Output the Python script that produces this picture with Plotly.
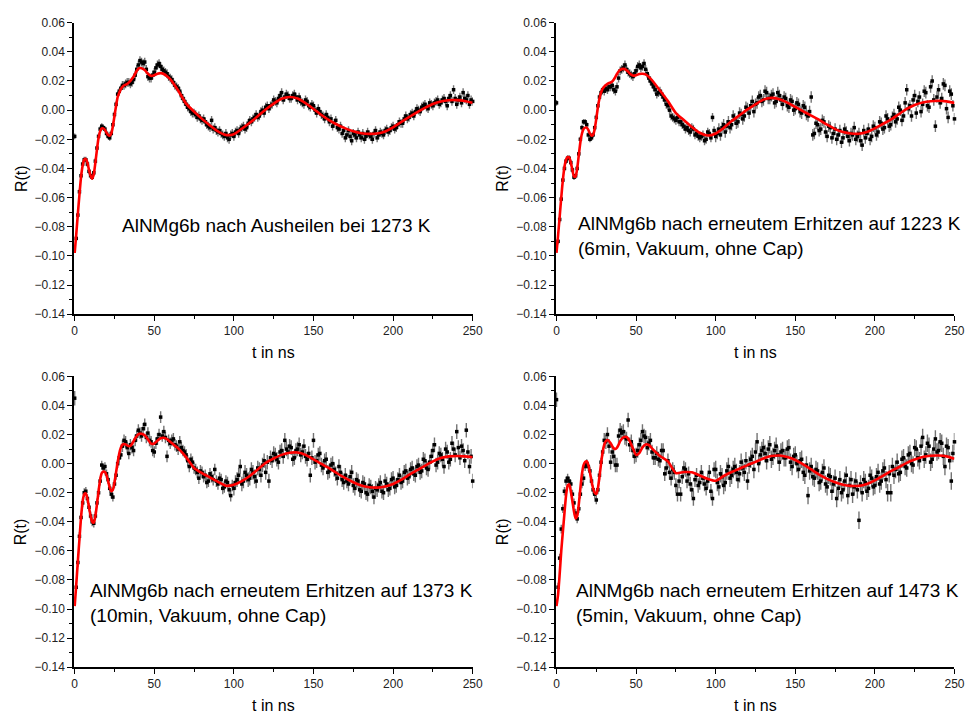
import plotly.graph_objects as go

# ---------------- data ----------------
# sampling times of the measured points (ns)
T_DATA = list(range(0, 251))
# sampling times of the fit curves (ns)
T_FIT = list(range(0, 41)) + list(range(42, 61, 2)) + list(range(65, 251, 5))

# measured R(t), panel 1 (AlNMg6b nach Ausheilen bei 1273 K)
R1 = [-0.018, -0.088, -0.072, -0.056, -0.045, -0.037, -0.034, -0.034, -0.037, -0.042,
      -0.045, -0.046, -0.043, -0.035, -0.026, -0.018, -0.013, -0.011, -0.012, -0.013,
      -0.016, -0.018, -0.019, -0.016, -0.010, -0.003, 0.004, 0.011, 0.013, 0.015,
      0.017, 0.017, 0.018, 0.019, 0.019, 0.018, 0.019, 0.021, 0.024, 0.028,
      0.031, 0.034, 0.033, 0.032, 0.033, 0.028, 0.023, 0.022, 0.022, 0.024,
      0.026, 0.029, 0.031, 0.032, 0.030, 0.028, 0.027, 0.026, 0.025, 0.023,
      0.022, 0.021, 0.019, 0.017, 0.016, 0.015, 0.013, 0.010, 0.008, 0.006,
      0.004, 0.002, 0.001, -0.001, -0.002, -0.002, -0.003, -0.005, -0.004, -0.006,
      -0.007, -0.006, -0.008, -0.010, -0.011, -0.012, -0.007, -0.013, -0.012, -0.014,
      -0.015, -0.014, -0.016, -0.017, -0.018, -0.016, -0.019, -0.020, -0.017, -0.016,
      -0.018, -0.015, -0.014, -0.016, -0.013, -0.012, -0.011, -0.013, -0.012, -0.009,
      -0.007, -0.008, -0.006, -0.005, -0.003, -0.005, -0.004, -0.001, 0.000, -0.002,
      0.002, 0.003, 0.001, 0.003, 0.004, 0.007, 0.006, 0.005, 0.008, 0.010,
      0.012, 0.007, 0.009, 0.011, 0.010, 0.008, 0.008, 0.010, 0.011, 0.009,
      0.007, 0.009, 0.006, 0.005, 0.004, 0.007, 0.006, 0.003, 0.002, 0.004,
      0.003, 0.000, -0.002, 0.001, -0.001, -0.003, -0.004, -0.006, -0.003, -0.005,
      -0.008, -0.006, -0.011, -0.009, -0.007, -0.012, -0.013, -0.011, -0.016, -0.014,
      -0.019, -0.017, -0.014, -0.018, -0.021, -0.016, -0.017, -0.019, -0.015, -0.017,
      -0.019, -0.016, -0.020, -0.018, -0.015, -0.017, -0.018, -0.020, -0.016, -0.014,
      -0.019, -0.017, -0.015, -0.016, -0.017, -0.014, -0.013, -0.015, -0.014, -0.012,
      -0.011, -0.013, -0.012, -0.010, -0.008, -0.009, -0.009, -0.006, -0.004, -0.006,
      -0.005, -0.003, -0.002, -0.004, -0.001, 0.001, 0.000, -0.001, 0.002, 0.003,
      0.004, 0.002, 0.001, 0.005, 0.004, 0.003, 0.005, 0.006, 0.007, 0.004,
      0.005, 0.007, 0.008, 0.006, 0.003, 0.008, 0.010, 0.006, 0.014, 0.008,
      0.004, 0.007, 0.009, 0.005, 0.012, 0.008, 0.007, 0.010, 0.004, 0.007,
      0.006]
E1 = [0.002] * 30 + [0.003] * 221

R2 = [0.005, -0.090, -0.075, -0.061, -0.048, -0.040, -0.035, -0.033, -0.033, -0.036,
      -0.041, -0.046, -0.045, -0.040, -0.030, -0.020, -0.012, -0.008, -0.008, -0.010,
      -0.017, -0.020, -0.019, -0.017, -0.012, -0.005, 0.003, 0.009, 0.012, 0.014,
      0.013, 0.015, 0.014, 0.016, 0.016, 0.017, 0.014, 0.013, 0.016, 0.022,
      0.027, 0.028, 0.029, 0.031, 0.028, 0.026, 0.025, 0.024, 0.023, 0.025,
      0.027, 0.030, 0.031, 0.029, 0.030, 0.032, 0.028, 0.025, 0.022, 0.020,
      0.018, 0.016, 0.014, 0.011, 0.012, 0.013, 0.011, 0.009, 0.007, 0.004,
      0.003, 0.000, -0.004, -0.005, -0.006, -0.007, -0.005, -0.008, -0.008, -0.010,
      -0.011, -0.013, -0.012, -0.014, -0.015, -0.012, -0.013, -0.017, -0.016, -0.018,
      -0.019, -0.018, -0.017, -0.021, -0.020, -0.015, -0.016, -0.019, -0.005, -0.014,
      -0.018, -0.016, -0.013, -0.017, -0.012, -0.010, -0.015, -0.011, -0.008, -0.012,
      -0.010, -0.004, -0.006, -0.009, -0.008, -0.002, -0.003, -0.006, -0.004, 0.002,
      0.001, -0.002, 0.003, 0.006, -0.001, 0.004, 0.005, 0.009, 0.010, 0.006,
      0.007, 0.013, 0.012, 0.008, 0.008, 0.010, 0.011, 0.005, 0.006, 0.012,
      0.010, 0.007, 0.004, 0.009, 0.008, 0.003, 0.002, 0.007, 0.006, 0.000,
      0.001, 0.005, 0.004, -0.001, -0.002, 0.003, 0.002, -0.003, -0.004, -0.001,
      0.009, -0.017, -0.016, -0.009, -0.010, -0.014, -0.013, -0.007, -0.008, -0.015,
      -0.018, -0.011, -0.012, -0.019, -0.016, -0.013, -0.020, -0.017, -0.014, -0.022,
      -0.019, -0.013, -0.015, -0.018, -0.021, -0.016, -0.017, -0.012, -0.020, -0.018,
      -0.016, -0.021, -0.024, -0.014, -0.019, -0.016, -0.013, -0.020, -0.018, -0.011,
      -0.012, -0.017, -0.015, -0.008, -0.009, -0.013, -0.012, -0.004, -0.006, -0.011,
      -0.010, -0.005, -0.003, -0.008, -0.006, 0.002, 0.000, -0.007, -0.004, 0.005,
      0.014, 0.001, 0.003, -0.004, 0.007, 0.010, -0.002, 0.006, 0.009, -0.001,
      0.004, 0.013, 0.012, 0.003, 0.002, 0.016, 0.020, 0.007, -0.011, 0.009,
      0.014, 0.005, 0.008, 0.018, 0.017, 0.001, -0.005, 0.013, 0.011, 0.003,
      -0.006]
E2 = [0.002] * 30 + [0.003] * 70 + [0.004] * 151

R3 = [0.045, -0.085, -0.068, -0.050, -0.037, -0.027, -0.020, -0.019, -0.024, -0.030,
      -0.036, -0.040, -0.041, -0.036, -0.027, -0.020, -0.012, -0.001, -0.003, -0.002,
      -0.007, -0.011, -0.017, -0.021, -0.023, -0.014, -0.008, 0.000, 0.004, 0.006,
      0.012, 0.016, 0.015, 0.011, 0.007, 0.013, 0.011, 0.009, 0.016, 0.019,
      0.023, 0.021, 0.019, 0.024, 0.027, 0.018, 0.021, 0.016, 0.015, 0.009,
      0.008, 0.014, 0.017, 0.020, 0.032, 0.019, 0.022, 0.018, 0.005, 0.016,
      0.014, 0.016, 0.017, 0.013, 0.012, 0.010, 0.015, 0.011, 0.009, 0.008,
      0.006, 0.002, -0.002, 0.003, 0.001, -0.003, -0.004, -0.006, -0.010, -0.005,
      -0.006, -0.009, -0.008, -0.013, -0.012, -0.007, -0.009, -0.011, -0.004, -0.012,
      -0.014, -0.010, -0.011, -0.017, -0.016, -0.012, -0.013, -0.018, -0.022, -0.015,
      -0.017, -0.013, -0.011, -0.008, -0.002, -0.014, -0.012, -0.006, -0.008, -0.011,
      -0.010, -0.004, -0.006, -0.009, -0.012, -0.003, -0.004, -0.008, -0.001, 0.002,
      -0.006, 0.001, -0.012, 0.004, 0.002, 0.007, 0.006, 0.003, 0.001, 0.008,
      0.009, 0.005, 0.016, 0.010, 0.008, 0.012, 0.011, 0.003, 0.004, 0.009,
      0.010, 0.013, 0.006, 0.008, 0.012, 0.005, 0.003, 0.007, -0.008, 0.004,
      0.016, 0.001, 0.002, 0.006, 0.007, -0.001, -0.003, 0.002, 0.003, -0.006,
      -0.005, -0.001, 0.000, -0.004, -0.007, -0.010, -0.002, -0.006, -0.011, -0.013,
      -0.008, -0.012, -0.014, -0.009, -0.006, -0.015, -0.017, -0.011, -0.012, -0.018,
      -0.019, -0.013, -0.014, -0.020, -0.021, -0.015, -0.016, -0.019, -0.023, -0.017,
      -0.018, -0.015, -0.013, -0.019, -0.020, -0.012, -0.014, -0.018, -0.017, -0.011,
      -0.010, -0.016, -0.015, -0.011, -0.008, -0.013, -0.012, -0.006, -0.005, -0.010,
      -0.009, -0.004, -0.003, -0.007, -0.008, -0.002, -0.001, -0.006, -0.005, 0.003,
      0.002, -0.003, -0.004, 0.001, 0.005, 0.009, 0.013, -0.001, 0.001, 0.007,
      0.006, 0.003, -0.002, 0.010, 0.008, 0.001, 0.003, 0.014, 0.010, 0.006,
      0.022, 0.011, 0.004, 0.012, 0.009, 0.002, 0.023, 0.008, -0.002, 0.005,
      -0.012]
E3 = [0.005] + [0.003] * 29 + [0.004] * 70 + [0.005] * 151

R4 = [0.044, -0.085, -0.065, -0.045, -0.031, -0.019, -0.012, -0.010, -0.012, -0.014,
      -0.021, -0.027, -0.034, -0.038, -0.031, -0.021, -0.014, -0.010, -0.002, 0.000,
      -0.002, -0.005, -0.012, -0.018, -0.021, -0.025, -0.018, -0.008, 0.001, 0.008,
      0.016, 0.015, 0.020, 0.012, 0.001, 0.008, 0.005, -0.001, -0.001, 0.019,
      0.023, 0.021, 0.022, 0.018, 0.017, 0.030, 0.013, 0.015, 0.009, 0.005,
      0.006, 0.009, 0.013, 0.016, 0.022, 0.019, 0.018, 0.011, 0.014, 0.016,
      0.008, 0.004, 0.004, 0.007, 0.003, 0.002, 0.009, 0.009, -0.007, -0.003,
      0.002, -0.006, -0.010, -0.004, -0.006, -0.015, -0.021, -0.012, -0.021, -0.009,
      -0.003, -0.004, -0.012, -0.007, -0.014, -0.018, -0.024, -0.011, -0.008, -0.015,
      -0.013, -0.006, -0.010, -0.014, -0.017, -0.012, -0.006, -0.019, -0.024, -0.004,
      -0.004, -0.013, -0.016, -0.007, -0.009, -0.015, -0.013, -0.005, -0.002, -0.010,
      -0.008, -0.004, -0.002, -0.006, -0.011, -0.007, 0.001, -0.003, -0.006, 0.002,
      -0.012, -0.001, 0.003, 0.005, -0.004, 0.008, 0.015, 0.000, 0.006, 0.009,
      0.011, 0.007, 0.002, 0.010, 0.013, 0.003, 0.005, 0.009, 0.012, 0.006,
      0.001, 0.008, 0.009, 0.004, 0.004, 0.010, 0.011, 0.001, -0.002, 0.005,
      0.006, 0.000, -0.004, 0.002, 0.003, -0.006, -0.008, -0.001, -0.022, -0.005,
      -0.002, -0.009, -0.010, -0.004, -0.005, -0.013, -0.012, -0.006, -0.003, -0.014,
      -0.016, -0.008, -0.009, -0.019, -0.014, -0.010, -0.024, -0.017, -0.011, -0.020,
      -0.018, -0.012, -0.008, -0.022, -0.015, -0.011, -0.021, -0.016, -0.012, -0.018,
      -0.039, -0.014, -0.020, -0.011, -0.013, -0.019, -0.017, -0.008, -0.010, -0.016,
      -0.015, -0.009, -0.006, -0.014, -0.012, -0.005, -0.003, -0.011, -0.020, -0.007,
      -0.020, -0.002, -0.008, -0.004, 0.001, -0.007, -0.006, 0.003, 0.004, -0.002,
      -0.003, 0.006, 0.007, 0.000, -0.001, 0.011, 0.010, 0.004, 0.002, 0.012,
      0.018, 0.003, 0.006, 0.014, 0.012, 0.001, 0.003, 0.010, 0.017, 0.008,
      0.009, 0.015, 0.014, 0.005, -0.002, 0.012, 0.011, 0.002, -0.012, 0.007,
      0.015]
E4 = [0.005] + [0.003] * 29 + [0.005] * 70 + [0.006] * 151

# fit curves (red lines)
F1 = [-0.098, -0.085, -0.071, -0.058, -0.046, -0.038, -0.034, -0.0335, -0.036, -0.041,
      -0.045, -0.047, -0.044, -0.036, -0.027, -0.019, -0.0145, -0.0125, -0.0125, -0.0135,
      -0.0155, -0.017, -0.0175, -0.016, -0.011, -0.004, 0.003, 0.009, 0.012, 0.0145,
      0.016, 0.017, 0.0175, 0.018, 0.019, 0.020, 0.0215, 0.023, 0.025, 0.027, 0.0285,
      0.0288, 0.0275, 0.025, 0.0235, 0.024, 0.025, 0.0254, 0.0248, 0.0232, 0.0212,
      0.0135, 0.0045, -0.001, -0.006, -0.0105, -0.0145, -0.0170, -0.0165, -0.0128, -0.0087,
      -0.0042, 0.0005, 0.0045, 0.0078, 0.0090, 0.0080, 0.0048, 0.0008, -0.0033, -0.0070,
      -0.0100, -0.0125, -0.0145, -0.0158, -0.0163, -0.0160, -0.0146, -0.0118, -0.0082, -0.0048,
      -0.0015, 0.0015, 0.0042, 0.0060, 0.0068, 0.0069, 0.0063, 0.0050]
F2 = [-0.098, -0.086, -0.073, -0.060, -0.048, -0.039, -0.034, -0.0322, -0.0325, -0.036,
      -0.041, -0.0455, -0.0455, -0.040, -0.031, -0.022, -0.016, -0.013, -0.012, -0.012,
      -0.0135, -0.016, -0.0175, -0.017, -0.013, -0.006, 0.002, 0.008, 0.012, 0.0148,
      0.0162, 0.0172, 0.018, 0.0186, 0.019, 0.0196, 0.021, 0.0228, 0.0248, 0.0265, 0.0276,
      0.0283, 0.0275, 0.0252, 0.0237, 0.0240, 0.0248, 0.0250, 0.0245, 0.0228, 0.0205,
      0.0135, 0.0062, -0.002, -0.0068, -0.0115, -0.0155, -0.0174, -0.0160, -0.0122, -0.0075,
      -0.0035, 0.0005, 0.0040, 0.0072, 0.0084, 0.0075, 0.0052, 0.0022, -0.0008, -0.0038,
      -0.0066, -0.0100, -0.0130, -0.0150, -0.0160, -0.0162, -0.0150, -0.0125, -0.0095, -0.0065,
      -0.0028, 0.0008, 0.0035, 0.0052, 0.0061, 0.0064, 0.0060, 0.0050]
F3 = [-0.098, -0.083, -0.067, -0.052, -0.037, -0.026, -0.021, -0.0205, -0.024, -0.030,
      -0.036, -0.040, -0.0405, -0.036, -0.028, -0.019, -0.011, -0.0065, -0.0055, -0.0058,
      -0.008, -0.012, -0.0165, -0.019, -0.018, -0.013, -0.006, 0.001, 0.007, 0.011,
      0.0130, 0.0135, 0.0132, 0.0125, 0.0120, 0.0122, 0.0135, 0.0155, 0.0175, 0.019, 0.0202,
      0.0206, 0.0195, 0.0168, 0.0137, 0.0138, 0.0158, 0.0175, 0.0178, 0.0168, 0.0150,
      0.0105, 0.0045, -0.0030, -0.0065, -0.0095, -0.0125, -0.0152, -0.0145, -0.0120, -0.0085,
      -0.0040, 0.0005, 0.0035, 0.0060, 0.0075, 0.0076, 0.0060, 0.0030, -0.0002, -0.0032,
      -0.0068, -0.0100, -0.0128, -0.0150, -0.0162, -0.0165, -0.0158, -0.0140, -0.0112, -0.0078,
      -0.0045, -0.0015, 0.0015, 0.0038, 0.0050, 0.0052, 0.0050, 0.0044]
F4 = [-0.098, -0.090, -0.076, -0.060, -0.047, -0.034, -0.022, -0.015, -0.0143, -0.019,
      -0.026, -0.033, -0.0377, -0.036, -0.028, -0.017, -0.007, -0.001, 0.0012, 0.0016,
      -0.001, -0.006, -0.012, -0.017, -0.020, -0.0209, -0.017, -0.009, 0.000, 0.008,
      0.013, 0.0155, 0.0162, 0.0155, 0.014, 0.012, 0.0105, 0.0101, 0.011, 0.013, 0.0155,
      0.0180, 0.0183, 0.0155, 0.0105, 0.0060, 0.0072, 0.0112, 0.0132, 0.0128, 0.0105,
      0.0052, 0.0015, -0.0065, -0.0058, -0.0060, -0.0082, -0.0105, -0.0118, -0.0085, -0.0058,
      -0.0035, -0.0010, 0.0012, 0.0035, 0.0052, 0.0056, 0.0045, 0.0025, -0.0005, -0.0040,
      -0.0075, -0.0105, -0.0128, -0.0145, -0.0153, -0.0153, -0.0140, -0.0115, -0.0085, -0.0052,
      -0.0025, 0.0005, 0.0028, 0.0045, 0.0054, 0.0056, 0.0050, 0.0034]

LABELS = [
    "AlNMg6b nach Ausheilen bei 1273 K",
    "AlNMg6b nach erneutem Erhitzen auf 1223 K<br>(6min, Vakuum, ohne Cap)",
    "AlNMg6b nach erneutem Erhitzen auf 1373 K<br>(10min, Vakuum, ohne Cap)",
    "AlNMg6b nach erneutem Erhitzen auf 1473 K<br>(5min, Vakuum, ohne Cap)",
]
X_TICKS = [0, 50, 100, 150, 200, 250]
Y_TICKS = [-0.14, -0.12, -0.10, -0.08, -0.06, -0.04, -0.02, 0.00, 0.02, 0.04, 0.06]

# ---------------- layout ----------------
W, H = 978, 720
FONT = "Liberation Sans, Arial, sans-serif"
# pixel boxes of the four plot areas: (left, right, top, bottom)
BOXES = [(72, 476, 16, 313.3), (560.3, 964.3, 16, 313.3),
         (72, 476, 376.7, 673.3), (560.3, 964.3, 376.7, 673.3)]
LABEL_POS = [(119, 222.7), (581, 233.5), (86, 608.3), (579, 608.3)]

panels = [(R1, E1, F1), (R2, E2, F2), (R3, E3, F3), (R4, E4, F4)]

fig = go.Figure()
annotations = []
for i, ((r, e, f), (l, rr, t, b)) in enumerate(zip(panels, BOXES)):
    n = i + 1
    xa = "x" if n == 1 else f"x{n}"
    ya = "y" if n == 1 else f"y{n}"
    fig.add_trace(go.Scatter(
        x=T_DATA, y=r, xaxis=xa, yaxis=ya, mode="markers",
        marker=dict(symbol="square", size=3.5, color="black"),
        error_y=dict(type="data", array=e, visible=True, thickness=1.4,
                     width=0, color="rgba(40,40,40,0.65)"),
        showlegend=False, cliponaxis=False))
    fig.add_trace(go.Scatter(
        x=T_FIT, y=f, xaxis=xa, yaxis=ya, mode="lines",
        line=dict(color="#ff0000", width=2.6, shape="spline", smoothing=0.6),
        showlegend=False))
    axis_common = dict(showline=True, linecolor="black", linewidth=1.5,
                       ticks="outside", ticklen=5, tickwidth=1.2, tickcolor="black",
                       showgrid=False, zeroline=False,
                       tickfont=dict(family=FONT, size=12, color="#222"))
    xkey = "xaxis" if n == 1 else f"xaxis{n}"
    ykey = "yaxis" if n == 1 else f"yaxis{n}"
    fig.update_layout(**{
        xkey: dict(domain=[l / W, rr / W], anchor=ya, range=[-0.4, 250],
                   tickvals=X_TICKS,
                   minor=dict(tickvals=[25, 75, 125, 175, 225], ticklen=3,
                              ticks="outside", tickcolor="black", tickwidth=1.2),
                   **axis_common),
        ykey: dict(domain=[1 - b / H, 1 - t / H], anchor=xa, range=[-0.14, 0.06],
                   tickvals=Y_TICKS, tickformat=".2f",
                   minor=dict(dtick=0.01, ticklen=3, ticks="outside",
                              tickcolor="black", tickwidth=1.2),
                   **axis_common),
    })
    lx, ly = LABEL_POS[i]
    annotations.append(dict(text=LABELS[i], xref="paper", yref="paper",
                            x=lx / W, y=1 - ly / H, xanchor="left", yanchor="middle",
                            align="left", showarrow=False,
                            font=dict(family=FONT, size=19, color="black")))
    annotations.append(dict(text="t in ns", xref="paper", yref="paper",
                            x=(l + rr) / 2 / W, y=1 - (b + 39) / H,
                            xanchor="center", yanchor="middle", showarrow=False,
                            font=dict(family=FONT, size=16, color="black")))
    annotations.append(dict(text="R(t)", xref="paper", yref="paper",
                            x=(l - 54) / W, y=1 - ((t + b) / 2 + 10) / H,
                            xanchor="center", yanchor="middle", textangle=-90,
                            showarrow=False,
                            font=dict(family=FONT, size=16, color="black")))

fig.update_layout(width=W, height=H, margin=dict(l=0, r=0, t=0, b=0),
                  paper_bgcolor="white", plot_bgcolor="white",
                  annotations=annotations)

fig.write_html("out.html")
